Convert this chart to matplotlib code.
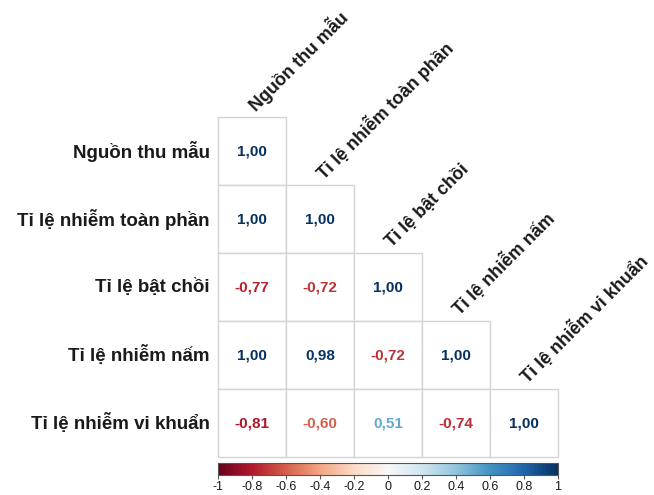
import numpy as np
import matplotlib
matplotlib.use("Agg")
import matplotlib.pyplot as plt
import matplotlib.patches as mpatches
from matplotlib.cm import ScalarMappable
from matplotlib.colors import Normalize

plt.rcParams["font.family"] = ["Liberation Sans", "DejaVu Sans"]

VARIABLES = [
    "Nguồn thu mẫu",
    "Tỉ lệ nhiễm toàn phần",
    "Tỉ lệ bật chồi",
    "Tỉ lệ nhiễm nấm",
    "Tỉ lệ nhiễm vi khuẩn",
]

# lower triangle of the correlation matrix, row by row
ROW_0 = [1.00]
ROW_1 = [1.00, 1.00]
ROW_2 = [-0.77, -0.72, 1.00]
ROW_3 = [1.00, 0.98, -0.72, 1.00]
ROW_4 = [-0.81, -0.60, 0.51, -0.74, 1.00]
ROWS = [ROW_0, ROW_1, ROW_2, ROW_3, ROW_4]

CBAR_TICKS = [-1, -0.8, -0.6, -0.4, -0.2, 0, 0.2, 0.4, 0.6, 0.8, 1]

W, H = 654, 495
fig = plt.figure(figsize=(W / 100, H / 100), dpi=100)

cmap = plt.get_cmap("RdBu")
norm = Normalize(-1, 1)
n = len(VARIABLES)

# grid area in pixels
gx0, gx1, gy0, gy1 = 218, 558, 117, 457
ax = fig.add_axes([gx0 / W, 1 - gy1 / H, (gx1 - gx0) / W, (gy1 - gy0) / H])
ax.set_xlim(0, n)
ax.set_ylim(n, 0)
ax.set_axis_off()

for i, row in enumerate(ROWS):
    for j, val in enumerate(row):
        ax.add_patch(mpatches.Rectangle((j, i), 1, 1, facecolor="white",
                                        edgecolor="#d4d4d4", linewidth=1.0,
                                        clip_on=False))
        ax.text(j + 0.5, i + 0.5, f"{val:.2f}".replace(".", ","),
                ha="center", va="center", fontsize=11, fontweight="bold",
                color=cmap(norm(val)))

# row labels
for i, name in enumerate(VARIABLES):
    ax.text(-0.12, i + 0.5, name, ha="right", va="center",
            fontsize=13.5, fontweight="bold", color="#1a1a1a")

# diagonal column labels
for j, name in enumerate(VARIABLES):
    ax.text(j + 0.56, j - 0.07, name, ha="left", va="baseline",
            rotation=45, rotation_mode="anchor",
            fontsize=12.9, fontweight="bold", color="#1a1a1a")

# colour legend
cax = fig.add_axes([gx0 / W, 1 - 475 / H, (gx1 - gx0) / W, 12 / H])
sm = ScalarMappable(norm=norm, cmap=cmap)
cb = fig.colorbar(sm, cax=cax, orientation="horizontal")
cb.set_ticks(CBAR_TICKS)
cb.set_ticklabels([f"{t:g}" for t in CBAR_TICKS])
cb.outline.set_edgecolor("#555555")
cb.outline.set_linewidth(0.8)
cax.tick_params(axis="x", length=3, width=0.8, color="#555555",
                labelsize=9, pad=1.5, labelcolor="#1a1a1a")

fig.savefig("out.png", dpi=100)
